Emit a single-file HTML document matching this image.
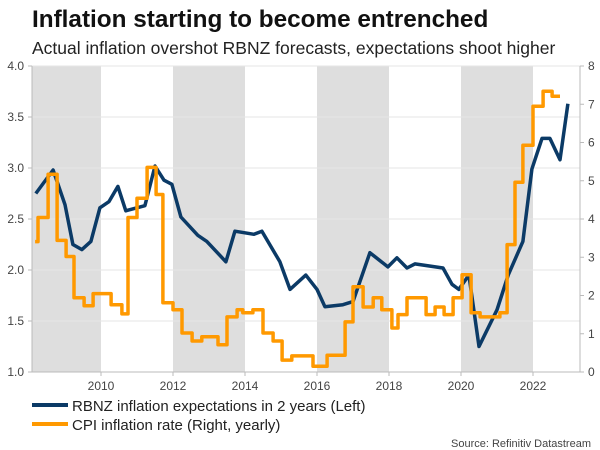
<!DOCTYPE html>
<html><head><meta charset="utf-8"><style>
body{margin:0;background:#fff;width:600px;height:450px;overflow:hidden;font-family:"Liberation Sans",sans-serif}
svg{display:block}
</style></head><body>
<svg id="chart" width="600" height="450">
<text x="32" y="27" font-size="24.3" font-weight="bold" fill="#111">Inflation starting to become entrenched</text>
<text x="32" y="54" font-size="17.5" fill="#222">Actual inflation overshot RBNZ forecasts, expectations shoot higher</text>
<g id="bands"></g><g id="grid"></g><g id="axes"></g><g id="series"></g>
<g>
<line x1="32" y1="405" x2="68" y2="405" stroke="#0b3a66" stroke-width="4"/>
<text x="72" y="411" font-size="15" fill="#222">RBNZ inflation expectations in 2 years (Left)</text>
<line x1="32" y1="424" x2="68" y2="424" stroke="#ff9900" stroke-width="4"/>
<text x="72" y="430" font-size="15" fill="#222">CPI inflation rate (Right, yearly)</text>
</g>
<text x="591" y="447" font-size="11" fill="#444" text-anchor="end">Source: Refinitiv Datastream</text>
</svg>
<script>
const leftTicks=[1.0,1.5,2.0,2.5,3.0,3.5,4.0];
const rightTicks=[0,1,2,3,4,5,6,7,8];
const yearTicks=[2010,2012,2014,2016,2018,2020,2022];
const bandYears=[2008,2012,2016,2020];
const rbnzDates=[2008.19,2008.67,2009.0,2009.22,2009.47,2009.72,2009.97,2010.22,2010.47,2010.69,2011.22,2011.5,2011.75,2011.97,2012.22,2012.69,2012.94,2013.47,2013.72,2014.25,2014.47,2014.97,2015.25,2015.69,2016.0,2016.22,2016.72,2017.0,2017.47,2017.97,2018.22,2018.5,2018.72,2019.5,2019.75,2019.94,2020.22,2020.5,2021.0,2021.31,2021.72,2021.97,2022.25,2022.47,2022.75,2022.97];
const rbnzValues=[2.75,2.98,2.64,2.25,2.2,2.28,2.61,2.67,2.82,2.58,2.63,3.02,2.88,2.84,2.52,2.34,2.28,2.08,2.38,2.35,2.38,2.08,1.81,1.95,1.81,1.64,1.66,1.69,2.17,2.03,2.12,2.02,2.06,2.02,1.86,1.81,1.95,1.25,1.61,1.95,2.28,2.99,3.29,3.29,3.08,3.63];
const cpiDates=[2008.17,2008.25,2008.53,2008.78,2009.03,2009.25,2009.53,2009.78,2010.28,2010.58,2010.75,2011.0,2011.28,2011.53,2011.72,2012.0,2012.25,2012.53,2012.8,2013.25,2013.5,2013.78,2013.94,2014.22,2014.5,2014.78,2015.03,2015.3,2015.89,2016.28,2016.78,2017.0,2017.28,2017.56,2017.8,2018.08,2018.25,2018.5,2019.03,2019.28,2019.53,2019.78,2020.03,2020.28,2020.53,2021.08,2021.28,2021.5,2021.72,2022.0,2022.28,2022.53];
const cpiValues=[3.41,4.04,5.17,3.44,3.02,1.94,1.73,2.05,1.76,1.52,4.04,4.54,5.35,4.64,1.81,1.63,1.02,0.81,0.92,0.71,1.44,1.63,1.55,1.63,1.02,0.81,0.31,0.42,0.15,0.44,1.31,2.23,1.7,1.94,1.63,1.15,1.5,1.94,1.5,1.7,1.5,1.94,2.54,1.55,1.44,1.55,3.33,4.96,5.93,6.95,7.34,7.21];
const cpiEnd=2022.75;
const NS='http://www.w3.org/2000/svg';
const PL=32,PR=580,PT=66,PB=372;
const X=t=>29+(t-2008)*36;
const YL=v=>PB-(v-1)*(PB-PT)/3;
const YR=v=>PB-v*(PB-PT)/8;
function mk(tag,attrs,parent){const e=document.createElementNS(NS,tag);for(const k in attrs)e.setAttribute(k,attrs[k]);document.getElementById(parent).appendChild(e);return e;}
bandYears.forEach(y=>{
 const x1=Math.max(PL,X(y)),x2=X(y+2);
 const r=mk('rect',{x:x1,y:PT,width:x2-x1,height:PB-PT,fill:'#dedede'},'bands');
 
 
});
leftTicks.forEach(v=>{
 const y=YL(v);
 if(v>1){const l=mk('line',{x1:PL,x2:PR,y1:y,y2:y,stroke:'#e6e6e6','stroke-width':1},'grid');
 
 }
 const lt=mk('line',{x1:PL-4,x2:PL,y1:y,y2:y,stroke:'#bbb'},'axes');
 
 
 const t=mk('text',{x:24,y:y+4,'font-size':12,fill:'#444','text-anchor':'end'},'axes');t.textContent=v.toFixed(1);
 
 
});
rightTicks.forEach(v=>{
 const y=YR(v);
 const l=mk('line',{x1:PR,x2:PR+4,y1:y,y2:y,stroke:'#bbb'},'axes');
 
 
 const t=mk('text',{x:588,y:y+4,'font-size':12,fill:'#444'},'axes');t.textContent=v;
 
 
});
const ax=mk('line',{x1:PL-4,x2:PR,y1:PB,y2:PB,stroke:'#bbb'},'axes');


const al=mk('line',{x1:PL,x2:PL,y1:PT,y2:PB,stroke:'#bbb'},'axes');


const ay=mk('line',{x1:PR,x2:PR,y1:PT,y2:PB,stroke:'#bbb'},'axes');


yearTicks.forEach(yr=>{
 const x=X(yr);
 const l=mk('line',{x1:x,x2:x,y1:PB,y2:PB+4,stroke:'#bbb'},'axes');
 
 
 const t=mk('text',{x:x,y:390,'font-size':12,fill:'#444','text-anchor':'middle'},'axes');t.textContent=yr;
 
 
});
let d='';
rbnzDates.forEach((t,i)=>{d+=(i?'L':'M')+X(t).toFixed(1)+' '+YL(rbnzValues[i]).toFixed(1);});
const p1=mk('path',{d:d,fill:'none',stroke:'#0b3a66','stroke-width':3.5,'stroke-linejoin':'round'},'series');


let d2='';
cpiDates.forEach((t,i)=>{const y=YR(cpiValues[i]).toFixed(1);const nx=i<cpiDates.length-1?cpiDates[i+1]:cpiEnd;
 d2+=(i?'L':'M')+X(t).toFixed(1)+' '+y+'L'+X(nx).toFixed(1)+' '+y;});
const p2=mk('path',{d:d2,fill:'none',stroke:'#ff9900','stroke-width':3.5,'stroke-linejoin':'round'},'series');


</script>
</body></html>
